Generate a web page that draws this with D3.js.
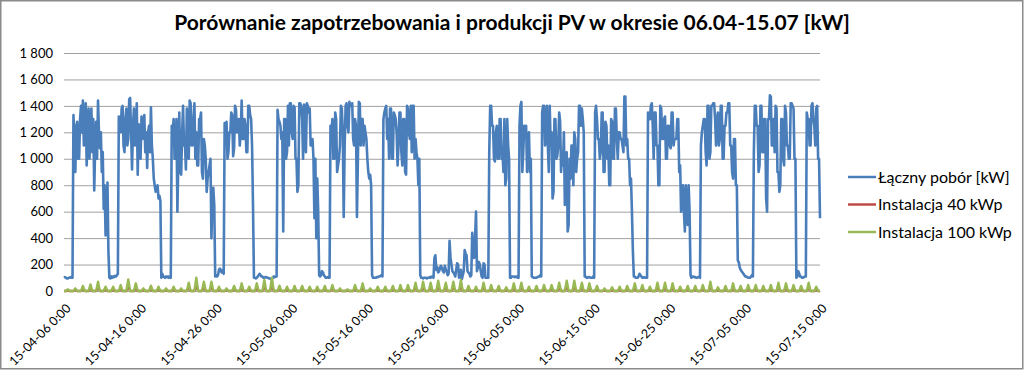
<!DOCTYPE html>
<html>
<head>
<meta charset="utf-8">
<script src="https://cdn.jsdelivr.net/npm/d3@7"></script>
<style>
  body { margin: 0; background: #fff; }
  svg text { font-family: Lato, "Open Sans", sans-serif; fill: #000; }
</style>
</head>
<body>
<div id="vis"></div>
<script>
// frame and plot area
const FRAME_WIDTH = 1024;
const FRAME_HEIGHT = 370;
const MARGINS = {left: 64, right: 204, top: 53, bottom: 79};

// chart data
const TITLE = "Porównanie zapotrzebowania i produkcji PV w okresie 06.04-15.07 [kW]";
const SERIES_NAMES = ["Łączny pobór [kW]", "Instalacja 40 kWp", "Instalacja 100 kWp"];
const X_TICK_LABELS = ["15-04-06 0:00", "15-04-16 0:00", "15-04-26 0:00", "15-05-06 0:00",
  "15-05-16 0:00", "15-05-26 0:00", "15-06-05 0:00", "15-06-15 0:00", "15-06-25 0:00",
  "15-07-05 0:00", "15-07-15 0:00"];
const Y_TICKS = [0, 200, 400, 600, 800, 1000, 1200, 1400, 1600, 1800];

// total demand, one reading every 3 h, one row per day (06.04 ... 14.07), last value 15.07 0:00
const DEMAND = [
  100,105,100,95,95,100,100,105,
  100,100,1330,1150,900,1250,1280,1000,
  1000,1300,1400,1200,1440,1100,1150,1420,
  950,1250,1380,1000,1250,1380,1050,1300,
  760,1100,1280,1000,1440,1200,1080,1200,
  900,1050,620,800,420,600,820,300,
  100,95,110,100,110,105,115,110,
  120,130,1320,1250,1200,1380,1400,1100,
  1050,1300,1380,1100,1150,1450,1460,1200,
  920,1250,1380,1100,1150,1420,880,1260,
  1200,1000,1320,1150,1250,1330,1050,1200,
  930,1200,1250,1050,1390,1100,1000,850,
  800,750,760,800,700,720,680,100,
  130,110,105,100,110,105,110,100,
  110,100,1250,1200,1300,1000,1000,1300,
  600,1000,1350,900,880,1200,1400,1100,
  1120,920,1380,1200,1000,1440,1420,1100,
  1100,1300,1420,1000,1200,950,950,1300,
  1300,1350,900,850,1150,1100,1000,750,
  850,900,950,1000,400,700,780,650,
  110,120,110,120,160,170,150,140,
  160,130,1270,1200,1280,1000,1050,1200,
  1200,1350,1330,1020,1080,1400,1370,1200,
  1250,1300,1100,1200,1440,1150,1150,1300,
  1250,1050,1050,1400,1400,1330,1300,1100,
  650,100,100,95,100,110,120,130,
  120,110,110,100,100,105,105,100,
  100,95,95,90,90,100,110,105,
  110,110,1370,1300,1280,1250,1150,1200,
  450,1300,1300,1000,1050,1400,1100,1420,
  1420,1200,1150,1400,1390,1000,1000,750,
  800,1420,1420,1400,1300,1000,1410,1400,
  1050,1420,1400,1350,1380,1100,1100,1150,
  1000,550,1000,400,850,600,120,110,
  120,150,140,120,110,100,100,105,
  100,100,1250,1200,1300,1000,1000,1350,
  1300,900,950,1000,1100,1400,1380,1200,
  560,1100,1400,1420,1250,1200,1430,1400,
  1400,1420,1150,1100,1300,1250,560,1000,
  1430,1420,1100,1300,1300,1100,1250,1200,
  1150,1000,900,850,880,800,120,100,
  100,100,100,105,105,110,110,115,
  120,110,1300,1350,1380,1400,1150,1300,
  1000,1380,1380,1000,1000,1350,1330,1300,
  1200,950,1100,1350,1350,1050,950,1300,
  1300,900,880,1400,1380,1200,1150,1400,
  1050,1400,1400,1000,1150,1050,1000,800,
  1000,120,100,100,95,100,100,100,
  95,100,100,105,100,110,110,100,
  250,270,160,180,140,150,180,190,
  170,150,140,190,160,150,120,130,
  380,250,200,150,140,130,110,160,
  210,200,100,130,160,90,120,150,
  310,280,270,150,140,130,110,120,
  440,300,250,400,600,150,180,220,
  200,150,110,100,210,200,100,100,
  100,100,1050,1400,1400,1250,1250,1000,
  980,1200,1250,1000,1000,1300,1300,1000,
  1050,900,1300,800,850,1300,1100,1000,
  100,100,110,110,110,105,110,110,
  100,100,1250,1400,1430,900,1050,1250,
  1200,1250,900,1100,1200,900,1000,110,
  105,100,100,100,100,105,110,110,
  120,110,1350,1400,1400,1100,1150,1400,
  1100,900,1400,1100,1200,700,750,1300,
  1300,1000,1020,1100,1350,1280,900,1050,
  950,1200,650,1000,1050,450,500,1000,
  850,1100,1100,800,1200,1150,900,1000,
  1050,1400,1400,1250,1380,1300,1200,110,
  110,100,100,105,105,100,100,100,
  110,100,1350,1400,1300,1150,1150,1000,
  1050,1350,1350,900,900,1280,1250,1000,
  1100,800,800,1300,1280,1000,1000,1380,
  1380,1150,1000,1200,1200,1150,1150,1100,
  1050,1470,1470,1100,1150,1000,1000,800,
  850,600,300,110,110,100,100,100,
  110,130,120,110,100,100,105,100,
  100,100,1350,1300,1300,1400,1420,1250,
  1000,1350,1350,1100,1100,800,800,1400,
  1380,1150,1150,1300,1320,1000,1000,1250,
  1250,1100,1080,1350,1350,1100,1150,1150,
  1150,1300,1300,900,950,600,700,800,
  600,450,800,600,500,800,600,120,
  100,110,110,105,105,100,100,105,
  105,100,1100,1200,1250,1300,1300,1050,
  950,1400,1400,1000,1050,1400,1400,1420,
  1420,1300,1100,1300,1350,1100,1150,1400,
  1400,1000,1000,1250,1250,1350,1350,1420,
  1420,1100,1100,900,850,1150,1150,800,
  800,230,220,180,160,150,140,130,
  120,110,110,105,100,100,100,110,
  120,110,1050,1400,1400,1250,1250,900,
  950,1400,1400,1050,1050,1300,1300,700,
  600,1300,1300,1480,1470,1100,1100,1300,
  1050,1400,1380,900,900,750,800,1300,
  1300,1000,950,1400,1350,1100,1100,1000,
  1000,1420,1420,1400,1380,1000,1000,100,
  110,150,130,110,110,100,100,105,
  110,110,1350,1300,1300,1100,1100,1400,
  1420,1300,1250,1100,1380,1400,1000,1000,
  550
];

// daily noon peak of PV production [kW]
const PV40_PEAKS = [
  5,8,15,20,28,13,13,18,35,23,   8,16,13,8,13,8,25,40,28,28,
  13,8,15,23,13,23,33,40,16,13,  15,15,13,13,15,18,8,5,18,23,
  8,13,13,15,18,18,25,28,25,31,  25,28,33,15,13,25,18,15,11,23,
  25,13,15,18,18,25,31,31,25,23, 15,8,11,13,15,23,18,13,25,25,
  23,13,15,15,18,28,11,15,23,15, 18,18,15,18,25,23,18,15,25,13
];
const PV100_PEAKS = [
  13,20,38,50,70,33,33,45,88,58,  20,40,33,20,33,20,63,100,70,70,
  33,20,38,58,33,58,83,100,40,33, 38,38,33,33,38,45,20,13,45,58,
  20,33,33,38,45,45,63,70,63,78,  63,70,83,38,33,63,45,38,28,58,
  63,33,38,45,45,63,78,78,63,58,  38,20,28,33,38,58,45,33,63,63,
  58,33,38,38,45,70,28,38,58,38,  45,45,38,45,63,58,45,38,63,33
];

const COLORS = ["#4a7ebb", "#be4b48", "#98b954"];

// x is measured in days from 06.04 0:00
const demandPoints = DEMAND.map((v, i) => ({day: i / 8, value: v}));

function pvPoints(peaks) {
  const pts = [];
  peaks.forEach((p, d) => {
    pts.push({day: d, value: 0});
    pts.push({day: d + 0.25, value: 0});
    pts.push({day: d + 0.5, value: p});
    pts.push({day: d + 0.75, value: 0});
  });
  pts.push({day: peaks.length, value: 0});
  return pts;
}

const SERIES = [demandPoints, pvPoints(PV40_PEAKS), pvPoints(PV100_PEAKS)];

const FRAME = d3.select("#vis")
                .append("svg")
                  .attr("width", FRAME_WIDTH)
                  .attr("height", FRAME_HEIGHT);

// chart border
FRAME.append("rect")
    .attr("x", 0.75).attr("y", 0.75)
    .attr("width", FRAME_WIDTH - 2).attr("height", FRAME_HEIGHT - 2)
    .attr("fill", "#fff")
    .attr("stroke", "#8a8a8a")
    .attr("stroke-width", 1.5);

const X_SCALE = d3.scaleLinear()
                  .domain([0, 100])
                  .range([MARGINS.left, FRAME_WIDTH - MARGINS.right]);

const Y_SCALE = d3.scaleLinear()
                  .domain([0, 1800])
                  .range([FRAME_HEIGHT - MARGINS.bottom, MARGINS.top]);

// horizontal gridlines + y labels
const yAxis = FRAME.append("g")
    .attr("transform", "translate(" + MARGINS.left + ",0)")
    .call(d3.axisLeft(Y_SCALE)
            .tickValues(Y_TICKS)
            .tickSize(-(X_SCALE.range()[1] - MARGINS.left))
            .tickPadding(11)
            .tickFormat(d => d3.format(",")(d).replace(",", " ")));
yAxis.select(".domain").remove();
yAxis.selectAll("line").attr("stroke", "#a0a0a0").attr("stroke-width", 1);
yAxis.selectAll("text").attr("font-size", "13px");

// x axis with rotated date labels
const xAxis = FRAME.append("g")
    .attr("transform", "translate(0," + Y_SCALE(0) + ")")
    .call(d3.axisBottom(X_SCALE)
            .tickValues(d3.range(0, 101, 10))
            .tickSize(0)
            .tickFormat((d, i) => X_TICK_LABELS[i]));
xAxis.select(".domain").attr("stroke", "#a0a0a0");
xAxis.selectAll("text")
    .attr("font-size", "12.5px")
    .attr("text-anchor", "end")
    .attr("dy", null)
    .attr("transform", "translate(5,16) rotate(-45)");

// lines
const line = d3.line()
               .x(d => X_SCALE(d.day))
               .y(d => Y_SCALE(d.value));

FRAME.selectAll(".series")
    .data(SERIES)
    .enter()
    .append("path")
      .attr("class", "series")
      .attr("d", line)
      .attr("fill", "none")
      .attr("stroke", (d, i) => COLORS[i])
      .attr("stroke-width", (d, i) => i === 0 ? 2.6 : 2.4)
      .attr("stroke-linejoin", "round");

// title
FRAME.append("text")
    .attr("x", 512)
    .attr("y", 30)
    .attr("text-anchor", "middle")
    .attr("font-size", "21px")
    .attr("font-weight", "bold")
    .text(TITLE);

// legend
const legend = FRAME.selectAll(".legend")
    .data(SERIES_NAMES)
    .enter()
    .append("g")
      .attr("class", "legend")
      .attr("transform", (d, i) => "translate(848," + (177 + i * 27.5) + ")");

legend.append("line")
    .attr("x1", 0).attr("x2", 28)
    .attr("stroke", (d, i) => COLORS[i])
    .attr("stroke-width", 2.5);

legend.append("text")
    .attr("x", 30)
    .attr("dy", "0.35em")
    .attr("font-size", "16px")
    .text(d => d);
</script>
</body>
</html>
